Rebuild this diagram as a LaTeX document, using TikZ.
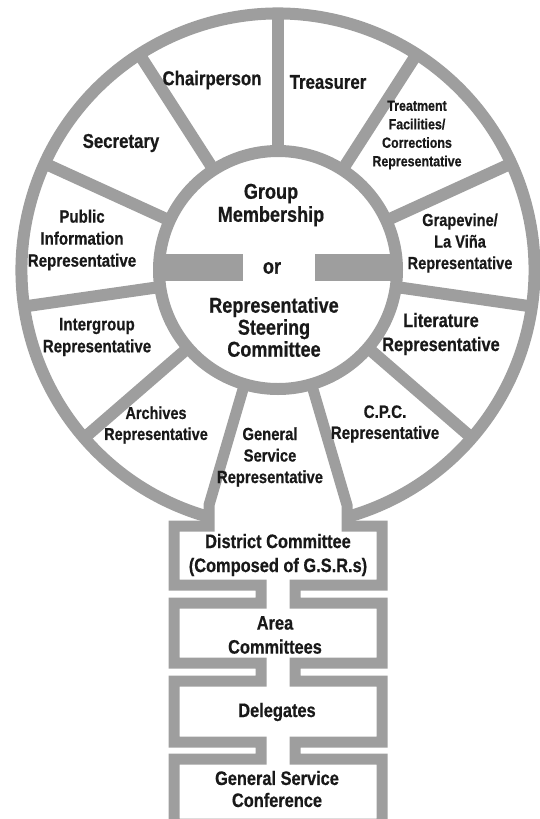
\documentclass[tikz,border=0pt]{standalone}
\usepackage{fontspec}
\setmainfont{Liberation Sans}[FakeStretch=0.84,BoldFeatures={FakeBold=0.6}]
\usetikzlibrary{calc}
\definecolor{ringgray}{RGB}{158,158,158}
\definecolor{ink}{RGB}{25,25,25}

\begin{document}
\begin{tikzpicture}[x=1pt,y=-1pt,
   ring/.style={draw=ringgray,line width=12},
   wall/.style={draw=ringgray,line width=11,line join=miter},
   sector/.style={font=\fontsize{18}{22}\selectfont\bfseries,align=center,text=ink,inner sep=0},
   officer/.style={sector,font=\fontsize{20}{23}\selectfont\bfseries},
   smallsector/.style={sector,font=\fontsize{14.8}{18.5}\selectfont\bfseries},
   hubtext/.style={sector,font=\fontsize{21.5}{23}\selectfont\bfseries},
   stage/.style={sector,font=\fontsize{19.5}{24}\selectfont\bfseries}]
   \useasboundingbox (0,0) rectangle (539,819);
   \coordinate (hub) at (278,270);

   \fill[ringgray] (160,254) rectangle (243,281);
   \fill[ringgray] (315,254) rectangle (396,281);
   \draw[ring] (hub) circle[radius=119];
   \draw[ring] (hub) ++(105.61:256.5) arc[start angle=105.61,end angle=434.39,radius=256.5];
   \foreach \k in {0,...,4,7,8,9,10}
   \draw[ring] ($(hub)+({-90+\k*360/11}:119)$) -- ($(hub)+({-90+\k*360/11}:256.5)$);

   \draw[wall] ($(hub)+(106.36:119)$) -- ($(hub)+(106.36:245)$) |- (174,526)
      -- (174,585) -- (261,585) -- (261,603) -- (174,603)
      -- (174,663) -- (261,663) -- (261,681) -- (174,681)
      -- (174,742) -- (261,742) -- (261,759) -- (174,759)
      -- (174,824) -- (382,824) -- (382,759)
      -- (295,759) -- (295,742) -- (382,742) -- (382,681)
      -- (295,681) -- (295,663) -- (382,663) -- (382,603)
      -- (295,603) -- (295,585) -- (382,585) -- (382,526)
      -| ($(hub)+(73.64:245)$) -- ($(hub)+(73.64:119)$);

   \node[officer] (chair) at (212,80) {Chairperson};
   \node[officer] (treasurer) at (328,82) {Treasurer};
   \node[smallsector] (treatment) at (417,135) {Treatment\\Facilities/\\Corrections\\Representative};
   \node[officer] (secretary) at (121,143) {Secretary};
   \node[sector] (publicinfo) at (82,240) {Public\\Information\\Representative};
   \node[sector,font=\fontsize{17.4}{21.5}\selectfont\bfseries] (grapevine) at (460,243) {Grapevine/\\La Viña\\Representative};
   \node[sector] (intergroup) at (97,337) {Intergroup\\Representative};
   \node[sector,font=\fontsize{19.5}{24}\selectfont\bfseries] (literature) at (441,334) {Literature\\Representative};
   \node[sector,font=\fontsize{17.2}{21}\selectfont\bfseries] (archives) at (156,425) {Archives\\Representative};
   \node[sector,font=\fontsize{18}{21}\selectfont\bfseries] (cpc) at (385,424) {C.P.C.\\Representative};
   \node[sector,font=\fontsize{17.6}{21.5}\selectfont\bfseries] (gsr) at (270,457) {General\\Service\\Representative};

   \node[hubtext] (membership) at (271,205) {Group\\Membership};
   \node[hubtext] (ortext) at (272,268) {or};
   \node[hubtext,font=\fontsize{21.5}{22}\selectfont\bfseries] (steering) at (274,327) {Representative\\Steering\\Committee};

   \node[stage] (district) at (278,555) {District Committee\\(Composed of G.S.R.s)};
   \node[stage] (area) at (275,635) {Area\\Committees};
   \node[stage] (delegates) at (277,712) {Delegates};
   \node[stage,font=\fontsize{19.5}{22}\selectfont\bfseries] (conference) at (277,789) {General Service\\Conference};

\end{tikzpicture}
\end{document}
